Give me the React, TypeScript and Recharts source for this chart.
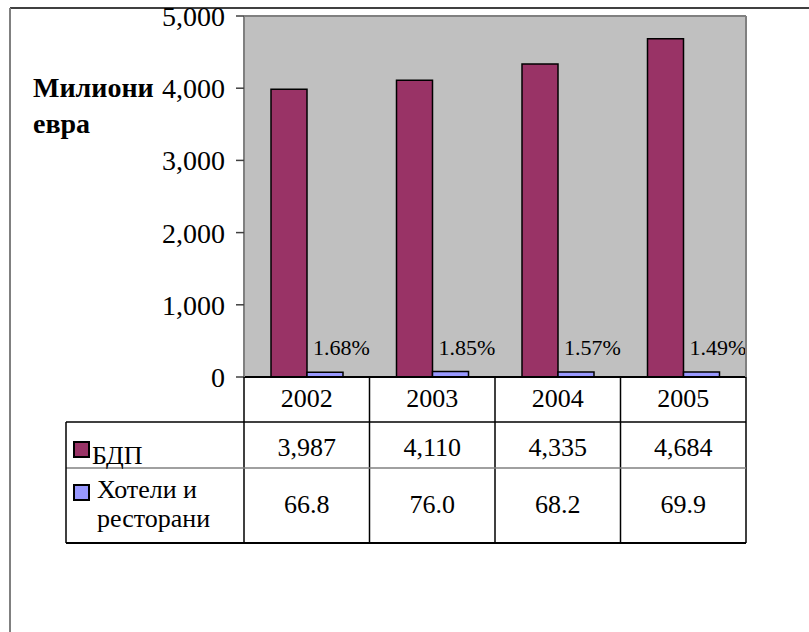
import React from 'react';
import { BarChart, Bar, XAxis, YAxis, CartesianGrid, LabelList } from 'recharts';

const years = ['2002', '2003', '2004', '2005'];
const gdp = [3987, 4110, 4335, 4684];
const hotels = [66.8, 76.0, 68.2, 69.9];
const shares = [1.68, 1.85, 1.57, 1.49];
const yTicks = [0, 1000, 2000, 3000, 4000, 5000];

const data = years.map((y, i) => ({ year: y, gdp: gdp[i], hot: hotels[i], pct: shares[i] }));

const W = 809;
const H = 632;
const PLOT_L = 244;
const PLOT_R = 746;
const PLOT_T = 16;
const PLOT_B = 377;
const TABLE_B = 543;
const TABLE_L = 66;
const COL_W = (PLOT_R - PLOT_L) / years.length;
const FONT = "'Liberation Serif', 'Times New Roman', 'DejaVu Serif', serif";

const txt = (size: number, bold = false): React.CSSProperties => ({
  fontFamily: FONT,
  fontSize: size,
  fontWeight: bold ? 'bold' : 'normal',
  fill: '#000',
});

const TableTick = (props: any) => {
  const { x, y, payload } = props;
  const i = payload?.index ?? props.index ?? 0;
  return (
    <g>
      {i === 0 && (
        <line x1={x - COL_W / 2} y1={y} x2={x - COL_W / 2} y2={TABLE_B} stroke="#000" strokeWidth={1.5} />
      )}
      <line x1={x + COL_W / 2} y1={y} x2={x + COL_W / 2} y2={TABLE_B} stroke="#000" strokeWidth={1.5} />
      <text x={x} y={y + 30} textAnchor="middle" style={txt(26)}>
        {years[i]}
      </text>
      <text x={x} y={y + 79} textAnchor="middle" style={txt(26)}>
        {gdp[i].toLocaleString('en-US')}
      </text>
      <text x={x} y={y + 136} textAnchor="middle" style={txt(26)}>
        {hotels[i].toFixed(1)}
      </text>
    </g>
  );
};

const PctLabel = (p: any) => {
  const { x, y, value } = p;
  return (
    <text x={Number(x) + 6} y={Number(y) - 17} style={txt(22)}>
      {Number(value).toFixed(2)}%
    </text>
  );
};

export default function App() {
  return (
    <div style={{ position: 'fixed', left: 0, top: 0, width: W, height: H, background: '#fff', overflow: 'hidden' }}>
      <BarChart
        width={W}
        height={H}
        data={data}
        margin={{ top: PLOT_T, right: W - PLOT_R, bottom: H - TABLE_B, left: PLOT_L - 60 }}
        barGap={0}
        barSize={36}
      >
        <CartesianGrid horizontal={false} vertical={false} fill="#C0C0C0" />
        <XAxis
          dataKey="year"
          height={TABLE_B - PLOT_B}
          interval={0}
          tickLine={false}
          tickSize={0}
          tickMargin={0}
          axisLine={{ stroke: '#000', strokeWidth: 2 }}
          tick={<TableTick />}
        />
        <YAxis
          width={60}
          domain={[0, 5000]}
          ticks={yTicks}
          interval={0}
          tickSize={8}
          tickMargin={11}
          tickFormatter={(v: number) => v.toLocaleString('en-US')}
          tick={{ style: txt(28), fontFamily: FONT, fontSize: 28, fill: '#000' }}
          tickLine={{ stroke: '#404040', strokeWidth: 1.5 }}
          axisLine={{ stroke: '#808080', strokeWidth: 2 }}
        />
        <Bar dataKey="gdp" fill="#993366" stroke="#000" strokeWidth={1.5} isAnimationActive={false} />
        <Bar dataKey="hot" fill="#9999FF" stroke="#000" strokeWidth={1.5} isAnimationActive={false}>
          <LabelList dataKey="pct" content={<PctLabel />} />
        </Bar>
      </BarChart>
      <svg
        width={W}
        height={H}
        style={{ position: 'absolute', left: 0, top: 0, pointerEvents: 'none' }}
      >
        <line x1={10} y1={8} x2={W} y2={8} stroke="#000" strokeWidth={1.5} />
        <line x1={10} y1={8} x2={10} y2={H} stroke="#808080" strokeWidth={2} />
        <line x1={PLOT_L} y1={PLOT_T} x2={PLOT_R} y2={PLOT_T} stroke="#808080" strokeWidth={2} />
        <line x1={PLOT_R} y1={PLOT_T} x2={PLOT_R} y2={PLOT_B} stroke="#808080" strokeWidth={2} />
        <text x={33} y={97} style={txt(28, true)}>Милиони</text>
        <text x={33} y={133} style={txt(28, true)}>евра</text>
        <line x1={TABLE_L} y1={422} x2={PLOT_R} y2={422} stroke="#000" strokeWidth={1.5} />
        <line x1={TABLE_L} y1={468} x2={PLOT_R} y2={468} stroke="#808080" strokeWidth={1.5} />
        <line x1={TABLE_L} y1={TABLE_B} x2={PLOT_R} y2={TABLE_B} stroke="#000" strokeWidth={2} />
        <line x1={TABLE_L} y1={422} x2={TABLE_L} y2={TABLE_B} stroke="#000" strokeWidth={1.5} />
        <rect x={74} y={442} width={15} height={15} fill="#993366" stroke="#000" strokeWidth={2} />
        <text x={92} y={464} style={txt(26)}>БДП</text>
        <rect x={74} y={485} width={15} height={15} fill="#9999FF" stroke="#000" strokeWidth={2} />
        <text x={97} y={498} style={txt(26)}>Хотели и</text>
        <text x={97} y={527} style={txt(26)}>ресторани</text>
      </svg>
    </div>
  );
}
